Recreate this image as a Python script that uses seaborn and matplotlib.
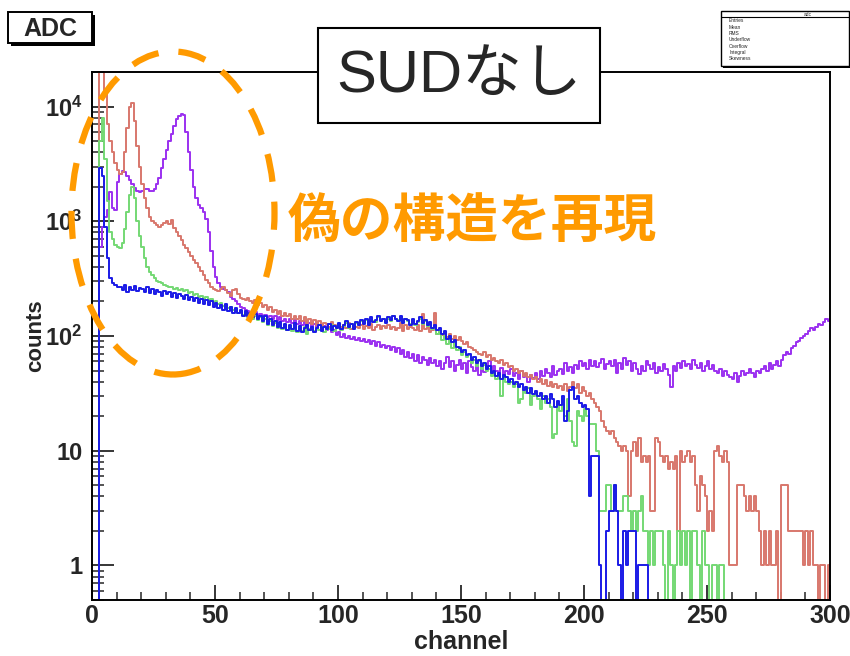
"""
ADC spectra without SUD (log scale), ROOT-style histogram look.
"""

import numpy as np
import pandas as pd
import matplotlib
matplotlib.use('Agg')
import matplotlib.pyplot as plt
from matplotlib.patches import Rectangle, Ellipse
from matplotlib.ticker import LogLocator, NullFormatter, MultipleLocator
import seaborn as sns

# counts per channel (1 bin = 1 channel, 0..299)
blue_counts = [
    0, 0, 0, 2900, 2500, 900, 480, 320, 290, 280,
    270, 265, 250, 280, 240, 270, 250, 275, 245, 260,
    255, 240, 265, 235, 255, 230, 250, 240, 225, 245,
    230, 240, 220, 235, 215, 230, 225, 210, 228, 205,
    220, 200, 215, 195, 210, 190, 205, 185, 200, 178,
    195, 175, 185, 170, 190, 165, 180, 160, 175, 158,
    170, 150, 165, 148, 160, 145, 155, 140, 150, 135,
    148, 128, 140, 125, 135, 120, 132, 118, 128, 112,
    125, 115, 130, 110, 122, 108, 118, 125, 112, 120,
    108, 118, 125, 110, 120, 115, 128, 112, 122, 118,
    130, 115, 125, 135, 120, 128, 115, 132, 125, 138,
    128, 140, 125, 145, 132, 138, 150, 135, 142, 130,
    145, 138, 150, 140, 135, 148, 130, 142, 138, 125,
    140, 128, 135, 145, 130, 138, 125, 132, 118, 125,
    112, 118, 105, 110, 95, 100, 88, 92, 80, 78,
    72, 75, 68, 70, 62, 65, 58, 62, 55, 58,
    52, 55, 48, 50, 45, 48, 42, 46, 44, 40,
    42, 38, 40, 36, 38, 34, 36, 32, 35, 31,
    33, 30, 32, 28, 30, 26, 31, 28, 24, 27,
    25, 30, 18, 22, 34, 36, 28, 30, 26, 24,
    25, 23, 4, 9, 9, 9, 1, 0, 0, 2,
    3, 3, 5, 3, 1, 0, 2, 1, 2, 2,
    2, 0, 1, 1, 1, 1, 0, 0, 0, 0,
    0, 0, 0, 0, 0, 0, 0, 0, 0, 0,
    0, 0, 0, 0, 0, 0, 0, 0, 0, 0,
    0, 0, 0, 0, 0, 0, 0, 0, 0, 0,
    0, 0, 0, 0, 0, 0, 0, 0, 0, 0,
    0, 0, 0, 0, 0, 0, 0, 0, 0, 0,
    0, 0, 0, 0, 0, 0, 0, 0, 0, 0,
    0, 0, 0, 0, 0, 0, 0, 0, 0, 0,
]

green_counts = [
    0, 0, 0, 5000, 8000, 3500, 1500, 800, 700, 620,
    600, 580, 650, 850, 1200, 1700, 2000, 1600, 1000, 750,
    600, 480, 400, 360, 340, 320, 300, 295, 290, 280,
    275, 270, 265, 258, 262, 250, 255, 245, 250, 238,
    240, 228, 232, 220, 225, 212, 218, 205, 210, 198,
    200, 190, 195, 182, 188, 175, 180, 168, 172, 160,
    165, 152, 160, 145, 155, 140, 150, 138, 145, 132,
    140, 125, 135, 122, 130, 118, 128, 115, 125, 112,
    120, 110, 118, 108, 115, 110, 120, 105, 115, 112,
    110, 118, 112, 120, 108, 118, 115, 125, 110, 120,
    125, 112, 122, 130, 118, 128, 120, 130, 125, 135,
    130, 138, 128, 140, 135, 132, 145, 138, 140, 132,
    142, 135, 148, 140, 138, 145, 132, 140, 135, 128,
    138, 125, 132, 140, 128, 135, 122, 128, 115, 120,
    105, 110, 92, 100, 85, 95, 78, 88, 75, 80,
    68, 72, 65, 68, 58, 62, 55, 60, 52, 56,
    50, 52, 45, 48, 42, 46, 30, 44, 40, 38,
    40, 36, 38, 26, 28, 34, 32, 35, 25, 30,
    32, 28, 23, 30, 26, 28, 24, 13, 14, 26,
    22, 25, 20, 28, 18, 12, 11, 22, 20, 18,
    23, 20, 17, 17, 17, 10, 3, 3, 3, 5,
    5, 3, 5, 3, 3, 3, 4, 4, 3, 2,
    3, 2, 3, 4, 2, 2, 1, 2, 1, 2,
    2, 2, 1, 0, 2, 1, 0, 1, 2, 1,
    2, 1, 2, 0, 2, 2, 1, 0, 2, 1,
    1, 0, 1, 1, 0, 1, 1, 0, 0, 0,
    0, 0, 0, 0, 0, 0, 0, 0, 0, 0,
    0, 0, 0, 0, 0, 0, 0, 0, 0, 0,
    0, 0, 0, 0, 0, 0, 0, 0, 0, 0,
    0, 0, 0, 0, 0, 0, 0, 0, 0, 0,
]

red_counts = [
    0, 0, 0, 30000, 25000, 13000, 7000, 5000, 4000, 3200,
    2800, 2600, 2700, 4000, 6500, 10000, 10800, 7500, 4500, 3000,
    2100, 1600, 1300, 1100, 1000, 960, 930, 900, 920, 960,
    1000, 950, 1020, 880, 800, 740, 680, 620, 580, 540,
    500, 460, 430, 400, 370, 340, 310, 290, 270, 255,
    250, 245, 255, 265, 250, 235, 225, 250, 258, 230,
    215, 210, 205, 215, 200, 195, 205, 185, 192, 178,
    185, 170, 178, 162, 170, 155, 165, 150, 160, 148,
    155, 142, 150, 140, 148, 135, 145, 130, 140, 128,
    138, 125, 135, 122, 130, 128, 120, 132, 125, 118,
    128, 120, 125, 118, 130, 115, 125, 120, 118, 125,
    115, 122, 118, 128, 112, 120, 125, 115, 122, 118,
    125, 115, 120, 112, 118, 130, 110, 125, 115, 120,
    118, 112, 125, 110, 155, 115, 120, 108, 112, 160,
    105, 110, 102, 108, 98, 105, 95, 100, 92, 98,
    90, 85, 88, 80, 78, 75, 72, 70, 68, 72,
    65, 68, 62, 64, 60, 58, 62, 56, 58, 54,
    55, 50, 52, 48, 50, 45, 48, 44, 46, 42,
    44, 40, 42, 38, 41, 37, 40, 36, 38, 35,
    37, 34, 38, 33, 36, 40, 35, 38, 32, 36,
    33, 30, 32, 28, 26, 24, 22, 18, 16, 15,
    14, 15, 13, 12, 11, 10, 11, 10, 4, 10,
    12, 9, 13, 8, 9, 8, 9, 3, 3, 13,
    12, 9, 8, 9, 7, 8, 7, 9, 2, 10,
    8, 9, 10, 8, 9, 5, 3, 6, 5, 4,
    2, 3, 2, 10, 11, 9, 8, 10, 8, 1,
    1, 1, 5, 5, 5, 4, 3, 4, 3, 4,
    3, 2, 1, 2, 1, 2, 1, 1, 2, 0,
    5, 5, 5, 2, 2, 2, 2, 2, 2, 1,
    2, 1, 2, 1, 1, 0, 1, 1, 0, 1,
]

purple_counts = [
    0, 0, 0, 600, 900, 1100, 1250, 1800, 1300, 1250,
    2200, 2600, 2750, 2700, 2500, 2300, 2100, 1950, 1850, 1800,
    1850, 1900, 1900, 1850, 1850, 1900, 2100, 2400, 2900, 3500,
    4200, 5000, 5800, 6800, 7800, 8300, 8600, 8400, 6000, 4000,
    2800, 2000, 1600, 1400, 1300, 1200, 1050, 800, 550, 400,
    330, 290, 270, 255, 250, 240, 220, 210, 200, 190,
    180, 175, 170, 165, 160, 158, 162, 150, 155, 148,
    152, 145, 150, 140, 148, 138, 145, 135, 142, 132,
    140, 130, 138, 128, 135, 125, 132, 122, 130, 120,
    128, 118, 125, 115, 122, 112, 118, 108, 112, 102,
    108, 98, 104, 96, 100, 95, 98, 92, 96, 90,
    94, 88, 92, 85, 90, 82, 88, 80, 84, 78,
    82, 76, 80, 72, 78, 70, 75, 66, 72, 64,
    70, 60, 68, 58, 65, 62, 56, 64, 58, 62,
    55, 60, 52, 58, 66, 54, 60, 50, 56, 62,
    52, 58, 48, 60, 54, 50, 57, 46, 55, 49,
    52, 60, 48, 55, 50, 46, 53, 44, 50, 47,
    52, 45, 48, 42, 50, 44, 47, 40, 46, 43,
    48, 42, 50, 45, 52, 48, 44, 55, 46, 50,
    52, 47, 58, 50, 54, 48, 56, 52, 60, 55,
    58, 52, 62, 55, 60, 54, 58, 63, 52, 57,
    60, 55, 62, 48, 58, 52, 64, 56, 60, 50,
    58, 52, 47, 55, 50, 60, 56, 52, 58, 48,
    54, 50, 57, 52, 46, 36, 55, 50, 58, 53,
    60, 55, 57, 52, 62, 56, 53, 58, 50, 55,
    60, 52, 56, 50, 48, 52, 45, 50, 46, 44,
    42, 48, 40, 45, 50, 46, 48, 52, 48, 44,
    50, 48, 52, 55, 50, 58, 52, 56, 60, 55,
    62, 68, 72, 70, 78, 82, 88, 90, 96, 100,
    105, 110, 118, 112, 120, 128, 124, 132, 140, 135,
]

series_names = ['purple', 'red', 'green', 'blue']
series_colors = {'purple': '#9B30F0', 'red': '#D8776C', 'green': '#74D874', 'blue': '#1A1AE6'}

y_tick_values = [1, 10, 100, 1000, 10000]
y_tick_labels = ['1', '10', r'$\mathbf{10^{2}}$', r'$\mathbf{10^{3}}$', r'$\mathbf{10^{4}}$']
stats_rows = ['Entries', 'Mean', 'RMS', 'Underflow', 'Overflow', 'Integral', 'Skewness']

W, H = 850, 656
ORANGE = '#FF9A00'


def fx(x):
    return x / W


def fy(y):
    return 1 - y / H


def build_frame():
    counts = {'purple': purple_counts, 'red': red_counts,
              'green': green_counts, 'blue': blue_counts}
    rows = []
    for name in series_names:
        for ch, c in enumerate(counts[name]):
            rows.append((ch + 0.5, c, name))
    return pd.DataFrame(rows, columns=['channel', 'counts', 'series'])


def boxed(fig, x0, y0, x1, y1, shadow=0, lw=1.4):
    # ROOT-like pave with optional drop shadow (pixel coords, y down)
    if shadow:
        fig.add_artist(Rectangle((fx(x0 + shadow), fy(y1 + shadow)), fx(x1 - x0), (y1 - y0) / H,
                                 transform=fig.transFigure, facecolor='black', edgecolor='none'))
    fig.add_artist(Rectangle((fx(x0), fy(y1)), fx(x1 - x0), (y1 - y0) / H,
                             transform=fig.transFigure, facecolor='white', edgecolor='black', lw=lw))


def main():
    sns.set_style('white')
    plt.rcParams['font.family'] = ['Liberation Sans', 'DejaVu Sans']
    plt.rcParams['mathtext.fontset'] = 'custom'
    plt.rcParams['mathtext.rm'] = 'Liberation Sans'
    plt.rcParams['mathtext.bf'] = 'Liberation Sans:bold'

    df = build_frame()

    fig = plt.figure(figsize=(8.5, 6.56), dpi=100)
    ax = fig.add_axes([fx(92), fy(600), fx(830 - 92), (600 - 72) / H])

    for name in series_names:
        sns.histplot(data=df[df['series'] == name], x='channel', weights='counts',
                     bins=300, binrange=(0, 300), element='step', fill=False,
                     color=series_colors[name], linewidth=1.4, ax=ax)

    ax.set_yscale('log')
    ax.set_xlim(0, 300)
    ax.set_ylim(0.5, 20000)

    ax.set_xticks(range(0, 301, 50))
    ax.xaxis.set_minor_locator(MultipleLocator(10))
    ax.set_yticks(y_tick_values, labels=y_tick_labels)
    ax.yaxis.set_minor_locator(LogLocator(base=10, subs=np.arange(2, 10)))
    ax.yaxis.set_minor_formatter(NullFormatter())

    ax.tick_params(axis='x', which='major', direction='in', length=11, width=1.3,
                   labelsize=18, pad=3, bottom=True, top=False)
    ax.tick_params(axis='x', which='minor', direction='in', length=5.5, width=1.1,
                   bottom=True, top=False)
    ax.tick_params(axis='y', which='major', direction='in', length=16, width=1.3,
                   labelsize=17, pad=7, left=True, right=False)
    ax.tick_params(axis='y', which='minor', direction='in', length=8.5, width=1.1,
                   left=True, right=False)
    for lab in ax.get_xticklabels() + ax.get_yticklabels():
        lab.set_fontweight('bold')

    for sp in ax.spines.values():
        sp.set_linewidth(1.4)
        sp.set_color('black')

    ax.set_xlabel('channel', fontsize=18, fontweight='bold', labelpad=1.5)
    ax.set_ylabel('counts', fontsize=16, fontweight='bold', labelpad=-1)
    ax.grid(False)

    # title pave
    boxed(fig, 8, 12, 92, 43, shadow=3)
    fig.text(fx(50), fy(29), 'ADC', fontsize=18, fontweight='bold', ha='center', va='center')

    # stats pave (tiny text)
    boxed(fig, 721, 11, 849, 66, shadow=2, lw=1.0)
    fig.add_artist(plt.Line2D([fx(721), fx(849)], [fy(17), fy(17)], transform=fig.transFigure,
                              color='black', lw=0.8))
    fig.text(fx(808), fy(14), 'adc', fontsize=3.5, ha='center', va='center')
    for i, r in enumerate(stats_rows):
        fig.text(fx(729), fy(21 + i * 6.3), r, fontsize=3.5, ha='left', va='center')

    # "SUDなし" label
    boxed(fig, 318, 28, 600, 123, lw=1.5)
    fig.text(fx(459), fy(76), 'SUDなし', fontsize=43, ha='center', va='center',
             family=['Liberation Sans', 'Noto Sans CJK JP'])

    # orange annotation
    fig.text(fx(472), fy(222), '偽の構造を再現', fontsize=38, fontweight='bold', color=ORANGE,
             ha='center', va='center', family=['Noto Sans CJK JP', 'DejaVu Sans'])
    fig.add_artist(Ellipse((fx(173), fy(213)), fx(203), 323 / H, transform=fig.transFigure,
                           fill=False, edgecolor=ORANGE, lw=4.5, linestyle=(0, (4.5, 3.2)),
                           zorder=10))

    fig.savefig('out.png', dpi=100, facecolor='white')


if __name__ == '__main__':
    main()
